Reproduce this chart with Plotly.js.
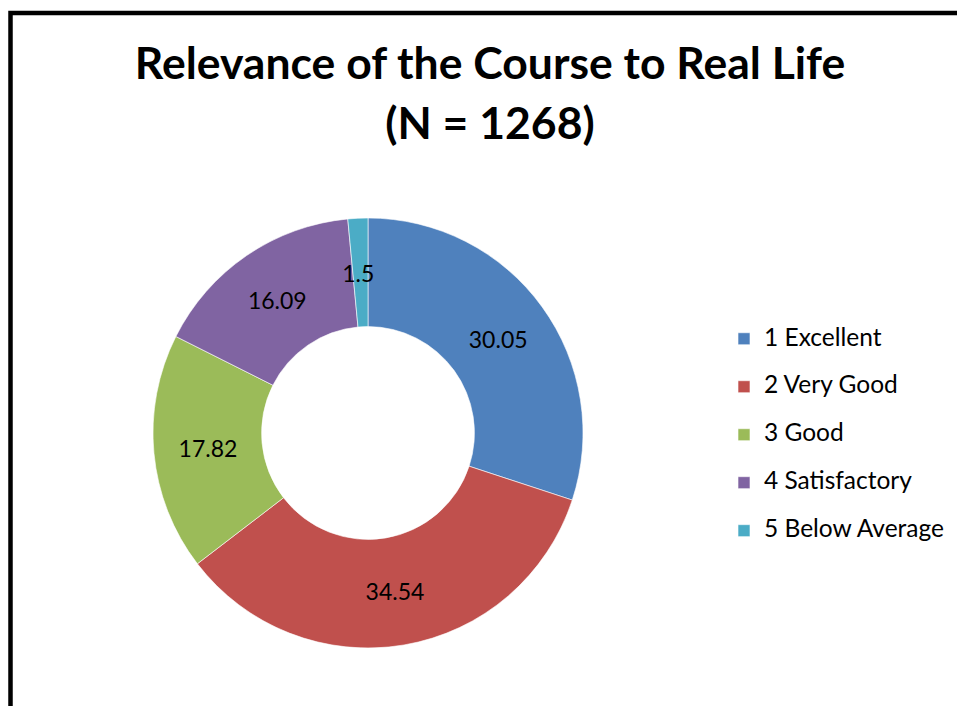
<!DOCTYPE html>
<html>
<head>
<meta charset="utf-8">
<script src="https://cdn.plot.ly/plotly-3.0.1.min.js"></script>
<style>
  html, body { margin: 0; padding: 0; background: #fff; }
  #chart { width: 957px; height: 706px; }
</style>
</head>
<body>
<div id="chart"></div>
<script>
const categories = ["1 Excellent", "2 Very Good", "3 Good", "4 Satisfactory", "5 Below Average"];
const percentages = [30.05, 34.54, 17.82, 16.09, 1.5];
const sliceColors = ["#4F81BD", "#C0504D", "#9BBB59", "#8064A2", "#4BACC6"];
const titleLines = ["Relevance of the Course to Real Life", "(N = 1268)"];

const FONT = "Lato, 'Open Sans', 'DejaVu Sans', sans-serif";
const W = 957, H = 706;
const cx = 368, cy = 433, R = 215;

// legend labels: first line at readable size, blank second line to widen row spacing
const legendLabels = categories.map(c => `<span style="font-size:24.5px">${c}</span><br>&nbsp;`);

// the thinnest slice's label sits mid-ring (as in the original) rather than at the rim
const labelTemplates = percentages.map((v, i) =>
  i === percentages.length - 1 ? "&nbsp;<br>&nbsp;<br>&nbsp;<br>%{value}" : "%{value}");

const trace = {
  type: "pie",
  labels: legendLabels,
  values: percentages,
  sort: false,
  direction: "clockwise",
  rotation: 0,
  hole: 0.495,
  marker: { colors: sliceColors, line: { color: "#ffffff", width: 0.6 } },
  texttemplate: labelTemplates,
  textposition: "inside",
  insidetextorientation: "horizontal",
  textfont: { family: FONT, size: 23, color: "#000000" },
  hoverinfo: "skip",
  domain: {
    x: [(cx - R) / W, (cx + R) / W],
    y: [(H - cy - R) / H, (H - cy + R) / H]
  }
};

const layout = {
  width: W,
  height: H,
  margin: { l: 0, r: 0, t: 0, b: 0 },
  paper_bgcolor: "#ffffff",
  plot_bgcolor: "#ffffff",
  font: { family: FONT, color: "#000000" },
  uniformtext: { mode: "show", minsize: 23 },
  title: {
    text: titleLines.map(t => `<span style="font-size:44.5px">${t}</span>`).join("<br>"),
    font: { family: FONT, size: 46, color: "#000000", weight: "bold" },
    x: 490 / W,
    xanchor: "center",
    xref: "container",
    y: 1 - 79 / H,
    yanchor: "top",
    yref: "container"
  },
  showlegend: true,
  legend: {
    x: 724 / W,
    xanchor: "left",
    y: 1 - 321 / H,
    yanchor: "top",
    valign: "top",
    font: { family: FONT, size: 17.3, color: "#000000" },
    bgcolor: "rgba(0,0,0,0)",
    borderwidth: 0
  },
  shapes: [{
    type: "rect",
    xref: "paper", yref: "paper",
    x0: 10.5 / W, x1: 1.2,
    y0: -0.2, y1: 1 - 13 / H,
    line: { color: "#000000", width: 4.5 },
    fillcolor: "rgba(0,0,0,0)",
    layer: "above"
  }]
};

Plotly.newPlot("chart", [trace], layout, { displayModeBar: false, staticPlot: true });
</script>
</body>
</html>
